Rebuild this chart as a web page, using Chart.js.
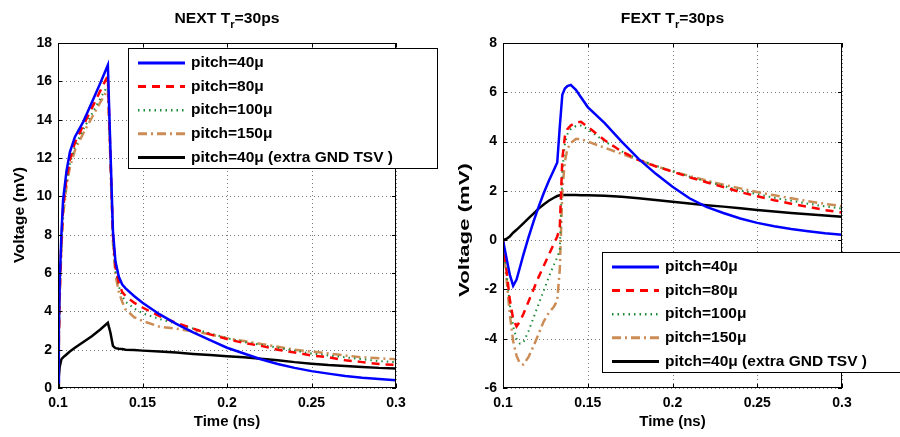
<!DOCTYPE html>
<html>
<head>
  <script src="https://cdn.jsdelivr.net/npm/chart.js@4"></script>
  <style>
    body { margin: 0; background: #fff; }
    #wrap { display: flex; width: 900px; height: 437px; }
  </style>
</head>
<body>
  <div id="wrap">
    <canvas id="next" width="450" height="437"></canvas>
    <canvas id="fext" width="450" height="437"></canvas>
  </div>
  <script>
    // legend labels
    const seriesLabels = ['pitch=40\u03bc', 'pitch=80\u03bc', 'pitch=100\u03bc', 'pitch=150\u03bc', 'pitch=40\u03bc (extra GND TSV )'];

    // NEXT (near end crosstalk), time in ns, voltage in mV
    const nextTime = [0.1, 0.1005, 0.101, 0.102, 0.103, 0.105, 0.107, 0.11, 0.115, 0.12, 0.125, 0.1295, 0.131, 0.1325, 0.134, 0.136, 0.138, 0.14, 0.145, 0.15, 0.16, 0.17, 0.18, 0.19, 0.2, 0.21, 0.22, 0.23, 0.24, 0.25, 0.26, 0.27, 0.28, 0.29, 0.3];
    const nextP40 = [0.3, 3, 5.5, 8, 9.8, 11.3, 12.3, 13.1, 13.9, 14.9, 15.9, 16.85, 12.5, 8.2, 6.6, 5.8, 5.4, 5.2, 4.8, 4.45, 3.85, 3.35, 2.9, 2.5, 2.1, 1.8, 1.5, 1.25, 1.05, 0.88, 0.75, 0.63, 0.54, 0.47, 0.41];
    const nextP80 = [0.2, 2.5, 5, 7.6, 9.4, 10.9, 11.9, 12.8, 13.7, 14.6, 15.5, 16.3, 12.2, 8.0, 6.3, 5.5, 5.0, 4.8, 4.45, 4.2, 3.75, 3.4, 3.1, 2.8, 2.55, 2.35, 2.2, 2.0, 1.85, 1.7, 1.6, 1.45, 1.35, 1.25, 1.2];
    const nextP100 = [0.2, 2.3, 4.8, 7.4, 9.2, 10.7, 11.7, 12.6, 13.5, 14.3, 15.1, 15.8, 12.0, 7.8, 6.1, 5.3, 4.8, 4.5, 4.15, 3.9, 3.6, 3.35, 3.1, 2.85, 2.6, 2.4, 2.25, 2.1, 1.95, 1.8, 1.7, 1.6, 1.5, 1.4, 1.35];
    const nextP150 = [0.2, 2.2, 4.6, 7.2, 9.0, 10.5, 11.5, 12.4, 13.3, 14.1, 14.9, 15.6, 11.8, 7.6, 5.9, 5.0, 4.5, 4.1, 3.7, 3.5, 3.2, 3.1, 2.95, 2.8, 2.6, 2.45, 2.3, 2.15, 2.0, 1.9, 1.8, 1.7, 1.6, 1.55, 1.5];
    const nextP40Gnd = [0, 0.6, 1.1, 1.5, 1.6, 1.75, 1.9, 2.1, 2.4, 2.7, 3.05, 3.4, 2.9, 2.2, 2.08, 2.05, 2.03, 2.0, 1.98, 1.95, 1.9, 1.85, 1.78, 1.72, 1.66, 1.6, 1.52, 1.45, 1.35, 1.27, 1.2, 1.15, 1.1, 1.05, 1.02];

    // FEXT (far end crosstalk)
    const fextTime = [0.1, 0.102, 0.104, 0.106, 0.108, 0.11, 0.112, 0.115, 0.118, 0.121, 0.124, 0.127, 0.13, 0.132, 0.1335, 0.135, 0.1365, 0.138, 0.14, 0.143, 0.146, 0.15, 0.16, 0.17, 0.18, 0.19, 0.2, 0.21, 0.22, 0.23, 0.24, 0.25, 0.26, 0.27, 0.28, 0.29, 0.3];
    const fextP40 = [0, -0.7, -1.4, -1.85, -1.6, -1.1, -0.6, 0.1, 0.75, 1.35, 1.9, 2.4, 2.85, 3.15, 4.6, 5.9, 6.15, 6.25, 6.3, 6.1, 5.8, 5.4, 4.75, 4.0, 3.3, 2.7, 2.17, 1.7, 1.35, 1.1, 0.88, 0.7, 0.56, 0.45, 0.36, 0.28, 0.22];
    const fextP80 = [0, -1.2, -2.4, -3.2, -3.5, -3.3, -3.0, -2.5, -2.0, -1.5, -1.05, -0.6, -0.15, 0.15, 0.5, 3.3, 4.2, 4.5, 4.65, 4.78, 4.8, 4.6, 4.05, 3.6, 3.25, 3.0, 2.78, 2.55, 2.35, 2.15, 1.95, 1.78, 1.62, 1.48, 1.35, 1.22, 1.12];
    const fextP100 = [0, -1.3, -2.6, -3.5, -4.0, -4.2, -4.15, -3.7, -3.15, -2.6, -2.05, -1.5, -1.0, -0.7, -0.4, 2.8, 3.9, 4.3, 4.5, 4.63, 4.65, 4.5, 4.0, 3.6, 3.28, 3.02, 2.8, 2.58, 2.38, 2.2, 2.02, 1.86, 1.72, 1.6, 1.48, 1.37, 1.28];
    const fextP150 = [0, -1.5, -3.0, -4.1, -4.7, -5.0, -5.05, -4.75, -4.3, -3.8, -3.3, -2.95, -2.7, -2.45, -1.2, 2.0, 3.2, 3.7, 3.95, 4.1, 4.1, 4.0, 3.75, 3.5, 3.25, 3.0, 2.8, 2.6, 2.42, 2.25, 2.1, 1.95, 1.82, 1.7, 1.58, 1.47, 1.38];
    const fextP40Gnd = [0, 0.05, 0.15, 0.3, 0.42, 0.55, 0.68, 0.88, 1.08, 1.28, 1.45, 1.6, 1.72, 1.79, 1.82, 1.83, 1.83, 1.83, 1.83, 1.83, 1.82, 1.82, 1.8, 1.76, 1.7, 1.63, 1.56, 1.49, 1.42, 1.36, 1.29, 1.22, 1.16, 1.1, 1.05, 1.0, 0.95];

    const FONT = '"Liberation Sans", Arial, sans-serif';
    const styles = [
      { color: '#0000ff', dash: [], width: 2.5 },
      { color: '#ff0000', dash: [8, 6], width: 2.5 },
      { color: '#1e8c3a', dash: [1.5, 4], width: 2 },
      { color: '#cc8c55', dash: [9, 4, 2, 4], width: 2.5 },
      { color: '#000000', dash: [], width: 2.5 }
    ];

    function toPoints(xs, ys) {
      return xs.map((x, i) => ({ x: x, y: ys[i] }));
    }

    const framePlugin = {
      id: 'frame',
      beforeDatasetsDraw(chart) {
        // dotted matlab-style grid
        const { ctx, chartArea: a, scales } = chart;
        ctx.save();
        ctx.strokeStyle = '#777';
        ctx.lineWidth = 1;
        ctx.setLineDash([1, 3]);
        ctx.beginPath();
        scales.x.ticks.forEach(t => {
          const px = Math.round(scales.x.getPixelForValue(t.value)) + 0.5;
          ctx.moveTo(px, a.top); ctx.lineTo(px, a.bottom);
        });
        scales.y.ticks.forEach(t => {
          const py = Math.round(scales.y.getPixelForValue(t.value)) + 0.5;
          ctx.moveTo(a.left, py); ctx.lineTo(a.right, py);
        });
        ctx.stroke();
        ctx.restore();
      },
      afterDatasetsDraw(chart) {
        const { ctx, chartArea: a, scales } = chart;
        ctx.save();
        ctx.strokeStyle = '#000';
        ctx.lineWidth = 1;
        ctx.strokeRect(Math.round(a.left) + 0.5, Math.round(a.top) + 0.5, Math.round(a.width) - 1, Math.round(a.height) - 1);
        ctx.beginPath();
        scales.x.ticks.forEach(t => {
          const px = Math.round(scales.x.getPixelForValue(t.value)) + 0.5;
          ctx.moveTo(px, a.top); ctx.lineTo(px, a.top + 4);
          ctx.moveTo(px, a.bottom); ctx.lineTo(px, a.bottom - 4);
        });
        scales.y.ticks.forEach(t => {
          const py = Math.round(scales.y.getPixelForValue(t.value)) + 0.5;
          ctx.moveTo(a.left, py); ctx.lineTo(a.left + 4, py);
          ctx.moveTo(a.right, py); ctx.lineTo(a.right - 4, py);
        });
        ctx.stroke();
        ctx.restore();
      },
      afterDraw(chart, args, opts) {
        const { ctx, chartArea: a } = chart;
        ctx.save();
        // title with subscript, slightly stretched like the source figure
        const [t1, sub, t2] = opts.title;
        ctx.fillStyle = '#000';
        ctx.textBaseline = 'alphabetic';
        ctx.font = 'bold 14px ' + FONT;
        const w1 = ctx.measureText(t1).width, w3 = ctx.measureText(t2).width;
        ctx.font = 'bold 10px ' + FONT;
        const w2 = ctx.measureText(sub).width;
        const cx = (a.left + a.right) / 2;
        ctx.save();
        ctx.translate(cx, 0);
        ctx.scale(1.12, 1);
        let x = -(w1 + w2 + w3) / 2;
        const base = 23;
        ctx.font = 'bold 14px ' + FONT;
        ctx.fillText(t1, x, base); x += w1;
        ctx.font = 'bold 10px ' + FONT;
        ctx.fillText(sub, x, base + 5); x += w2;
        ctx.font = 'bold 14px ' + FONT;
        ctx.fillText(t2, x, base);
        ctx.restore();

        // y axis title, stretched along its length to the source size
        const [lx, ly, len] = opts.yLabel;
        ctx.save();
        ctx.font = 'bold 14px ' + FONT;
        const tw = ctx.measureText('Voltage (mV)').width;
        ctx.translate(lx, ly);
        ctx.rotate(-Math.PI / 2);
        ctx.scale(len / tw, 1);
        ctx.textAlign = 'center';
        ctx.textBaseline = 'middle';
        ctx.fillText('Voltage (mV)', 0, 0);
        ctx.restore();

        // legend box
        const [bx, by, bw, bh] = opts.box;
        ctx.fillStyle = '#fff';
        ctx.fillRect(bx, by, bw, bh);
        ctx.strokeStyle = '#000';
        ctx.lineWidth = 1;
        ctx.strokeRect(bx + 0.5, by + 0.5, bw, bh);
        ctx.font = 'bold 15.5px ' + FONT;
        ctx.textBaseline = 'middle';
        chart.data.datasets.forEach((ds, i) => {
          const y = by + 15 + i * 23.6;
          ctx.beginPath();
          ctx.strokeStyle = ds.borderColor;
          ctx.lineWidth = ds.borderWidth + 0.5;
          ctx.setLineDash(ds.borderDash);
          ctx.moveTo(bx + 10, y); ctx.lineTo(bx + 57, y);
          ctx.stroke();
          ctx.setLineDash([]);
          ctx.fillStyle = '#000';
          ctx.fillText(ds.label, bx + 63, y);
        });
        ctx.restore();
      }
    };

    function makeChart(id, xs, ys, yMin, yMax, frameOpts, padRight, yWidth) {
      new Chart(id, {
        type: 'line',
        data: {
          datasets: ys.map((v, i) => ({
            label: seriesLabels[i],
            data: toPoints(xs, v),
            borderColor: styles[i].color,
            borderDash: styles[i].dash,
            borderWidth: styles[i].width,
            pointRadius: 0,
            tension: 0,
            fill: false
          }))
        },
        options: {
          responsive: false,
          animation: false,
          layout: { padding: { top: 43, right: padRight, left: 0, bottom: 0 } },
          plugins: { legend: { display: false }, tooltip: { enabled: false }, frame: frameOpts },
          scales: {
            x: {
              type: 'linear', min: 0.1, max: 0.3,
              afterFit: s => { s.height = 49; },
              ticks: { stepSize: 0.05, color: '#000', padding: 7, font: { family: FONT, size: 14, weight: 'bold' },
                callback: v => String(parseFloat(v.toFixed(2))) },
              grid: { display: false, drawTicks: false },
              border: { display: false },
              title: { display: true, text: 'Time (ns)', color: '#000', padding: { top: 0, bottom: 6 },
                font: { family: FONT, size: 15, weight: 'bold' } }
            },
            y: {
              min: yMin, max: yMax,
              afterFit: s => { s.width = yWidth; },
              ticks: { stepSize: 2, color: '#000', padding: 6, font: { family: FONT, size: 14, weight: 'bold' } },
              grid: { display: false, drawTicks: false },
              border: { display: false }
            }
          }
        },
        plugins: [framePlugin]
      });
    }

    makeChart('next', nextTime, [nextP40, nextP80, nextP100, nextP150, nextP40Gnd], 0, 18,
      { title: ['NEXT T', 'r', '=30ps'], box: [128, 48, 309, 120], yLabel: [20, 215, 96] }, 54, 58);
    makeChart('fext', fextTime, [fextP40, fextP80, fextP100, fextP150, fextP40Gnd], -6, 8,
      { title: ['FEXT T', 'r', '=30ps'], box: [152, 252, 310, 120], yLabel: [15, 230, 134] }, 58, 53);
  </script>
</body>
</html>
